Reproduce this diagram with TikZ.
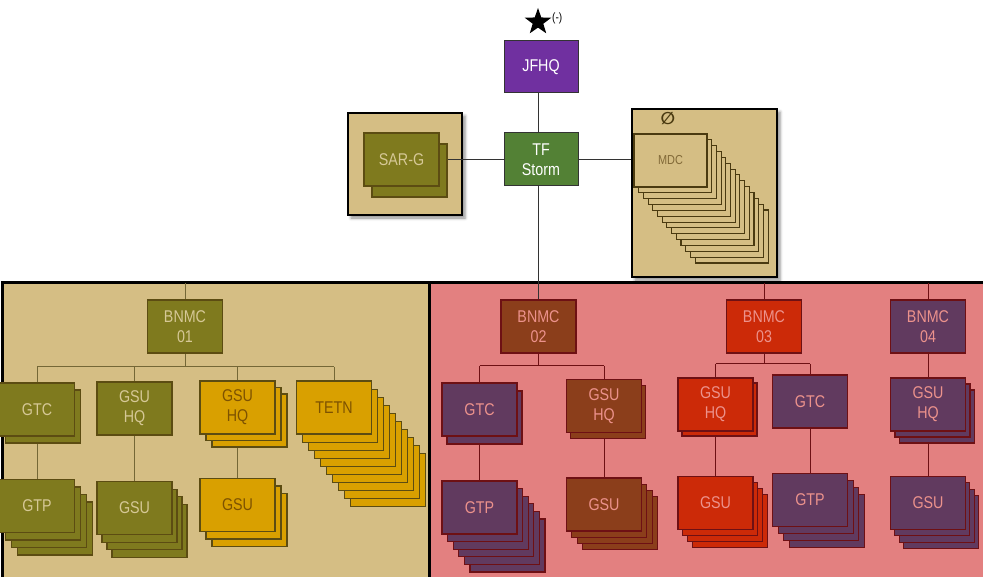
\documentclass[tikz,border=0pt]{standalone}
\usepackage{fontspec}
\usetikzlibrary{calc, shapes.geometric, shadows.blur}
\newfontfamily\unitfont[FakeStretch=0.84]{Liberation Sans}
\newfontfamily\markfont{DejaVu Sans}
\definecolor{tanfill}{RGB}{213,190,132}
\definecolor{redzone}{RGB}{227,128,128}
\definecolor{olivefill}{RGB}{127,122,30}
\definecolor{olivetext}{RGB}{214,200,150}
\definecolor{olivedraw}{RGB}{92,76,18}
\definecolor{goldfill}{RGB}{217,160,0}
\definecolor{goldtext}{RGB}{125,82,0}
\definecolor{brownfill}{RGB}{139,62,27}
\definecolor{redfill}{RGB}{204,42,8}
\definecolor{plumfill}{RGB}{97,58,95}
\definecolor{pinktext}{RGB}{236,146,140}
\definecolor{reddraw}{RGB}{110,16,20}
\definecolor{jfhqfill}{RGB}{112,48,160}
\definecolor{stormfill}{RGB}{83,129,53}
\definecolor{mdctext}{RGB}{130,106,56}
\definecolor{mdcdraw}{RGB}{74,58,16}

\pgfdeclarelayer{back}
\pgfdeclarelayer{links}
\pgfsetlayers{back,links,main}

% name, style, centre, copies behind, step, text
\newcommand{\unitstack}[6]{%
  \ifnum#4>0
    \foreach \k in {#4,...,1}
      \node[#2] (#1-\k) at ($(#3)+\k*(#5)$) {};
  \fi
  \node[#2] (#1) at (#3) {#6};
}

\begin{document}
\begin{tikzpicture}[x=1pt, y=-1pt,
  unit/.style={draw, line width=1.1pt, minimum width=75pt, minimum height=53pt,
    inner sep=0pt, align=center, font=\unitfont\fontsize{17}{20}\selectfont},
  olive/.style={unit, fill=olivefill, draw=olivedraw, text=olivetext},
  gold/.style={unit, fill=goldfill, draw=olivedraw, text=goldtext},
  brown/.style={unit, fill=brownfill, draw=reddraw, text=pinktext},
  redunit/.style={unit, fill=redfill, draw=reddraw, text=pinktext},
  plum/.style={unit, fill=plumfill, draw=reddraw, text=pinktext},
  hq/.style={unit, draw=black!80, line width=1pt, text=white, minimum width=74pt},
  mdcunit/.style={unit, fill=tanfill, draw=mdcdraw, text=mdctext, minimum width=73pt,
    font=\unitfont\fontsize{13}{14}\selectfont},
  holder/.style={draw=black, line width=2.6pt, fill=tanfill,
    blur shadow={shadow xshift=3pt, shadow yshift=-3pt, shadow blur radius=3pt, shadow opacity=45}},
  toplink/.style={draw=black!80, line width=1pt},
  tanlink/.style={draw=olivedraw!85, line width=1pt},
  redlink/.style={draw=reddraw, line width=1pt}]
\useasboundingbox (0,0) rectangle (983,577);

% zones
\begin{pgfonlayer}{back}
\draw[line width=3pt, fill=tanfill] (2,283) rectangle (429,600);
\draw[line width=3pt, fill=redzone] (429,283) rectangle (995,600);
\node[holder, minimum width=114pt, minimum height=102pt] (sarbox) at (405,164) {};
\node[holder, minimum width=145pt, minimum height=168pt] (mdcbox) at (704.5,193) {};
\end{pgfonlayer}

% command
\node[star, star points=5, star point ratio=2.5, fill=black, inner sep=0pt, minimum size=28pt] (rank) at (538,22) {};
\node[font=\unitfont\fontsize{12}{12}\selectfont, anchor=west, inner sep=0pt] (ranktag) at (552,18) {(-)};
\node[hq, fill=jfhqfill, minimum height=52pt] (jfhq) at (541,67) {JFHQ};
\node[hq, fill=stormfill] (tf) at (541,159.5) {TF\\Storm};

\unitstack{sarg}{olive}{401.5,159.5}{1}{8,11}{SAR-G}
\node[text=mdcdraw, inner sep=0pt, font=\markfont\bfseries\fontsize{17}{17}\selectfont] (nullmark) at (668,119) {∅};
\unitstack{mdc}{mdcunit}{670.5,160.5}{13}{4.7,5.85}{MDC}

% BNMC 01
\node[olive] (bnmc01) at (185,326.5) {BNMC\\01};
\unitstack{gtc01}{olive}{37,409.5}{1}{6,7}{GTC}
\unitstack{gtp01}{olive}{37,506}{3}{6,7.5}{GTP}
\node[olive] (gsuhq01) at (134.5,408.5) {GSU\\HQ};
\unitstack{gsu01}{olive}{134.5,508}{3}{5,7.7}{GSU}
\unitstack{gsuhq01b}{gold}{237.5,407.5}{2}{6,6.5}{GSU\\HQ}
\unitstack{gsu01b}{gold}{237.5,505}{2}{6,7.5}{GSU}
\unitstack{tetn01}{gold}{334,407.5}{9}{6,8.1}{TETN}

% BNMC 02
\node[brown] (bnmc02) at (538.5,326.5) {BNMC\\02};
\unitstack{gtc02}{plum}{479.5,409.5}{1}{5,8}{GTC}
\unitstack{gtp02}{plum}{479.5,507.5}{5}{5.6,7.6}{GTP}
\unitstack{gsuhq02}{brown}{604,406}{1}{4,6}{GSU\\HQ}
\unitstack{gsu02}{brown}{604,504.5}{3}{5.3,6.3}{GSU}

% BNMC 03
\node[redunit] (bnmc03) at (764,326.5) {BNMC\\03};
\unitstack{gsuhq03}{redunit}{715.5,404.5}{1}{4,5}{GSU\\HQ}
\unitstack{gsu03}{redunit}{715.5,503}{3}{4.7,6}{GSU}
\node[plum] (gtc03) at (810,401.5) {GTC};
\unitstack{gtp03}{plum}{810,500}{3}{5.7,7}{GTP}

% BNMC 04
\node[plum] (bnmc04) at (928,326.5) {BNMC\\04};
\unitstack{gsuhq04}{plum}{928,404.5}{2}{4.5,6}{GSU\\HQ}
\unitstack{gsu04}{plum}{928,503}{3}{4.3,6.3}{GSU}

\coordinate (top01) at (185,283);
\coordinate (top03) at (764,283);
\coordinate (top04) at (928,283);
\coordinate (bus01) at (185,367);
\coordinate (bus02) at (538.5,366);
\coordinate (bus03) at (764,364);

\begin{pgfonlayer}{links}
\draw[toplink] (jfhq.south -| bnmc02) -- (tf.north -| bnmc02);
\draw[toplink] (tf.south -| bnmc02) -- (bnmc02.north);
\draw[toplink] (tf.west) -- (tf.west -| sarg-1.east);
\draw[toplink] (tf.east) -- (tf.east -| mdcbox.west);
\draw[tanlink] (top01) -- (bnmc01);
\draw[tanlink] (bnmc01) -- (bus01);
\draw[tanlink] (bus01 -| gtc01) -- (bus01 -| tetn01);
\foreach \c in {gtc01, gsuhq01, gsuhq01b, tetn01}
  \draw[tanlink] (bus01 -| \c) -- (\c);
\draw[tanlink] (gtc01) -- (gtp01);
\draw[tanlink] (gsuhq01) -- (gsu01);
\draw[tanlink] (gsuhq01b) -- (gsu01b);
\draw[redlink] (bnmc02) -- (bus02);
\draw[redlink] (bus02 -| gtc02) -- (bus02 -| gsuhq02);
\draw[redlink] (top03) -- (bnmc03);
\draw[redlink] (bnmc03) -- (bus03);
\draw[redlink] (bus03 -| gsuhq03) -- (bus03 -| gtc03);
\foreach \c in {gtc02, gsuhq02}
  \draw[redlink] (\c |- bus02) -- (\c);
\foreach \c in {gsuhq03, gtc03}
  \draw[redlink] (\c |- bus03) -- (\c);
\draw[redlink] (gtc02) -- (gtp02);
\draw[redlink] (gsuhq02) -- (gsu02);
\draw[redlink] (gsuhq03) -- (gsu03);
\draw[redlink] (gtc03) -- (gtp03);
\draw[redlink] (top04) -- (bnmc04);
\draw[redlink] (bnmc04) -- (gsuhq04);
\draw[redlink] (gsuhq04) -- (gsu04);
\end{pgfonlayer}
\end{tikzpicture}
\end{document}
